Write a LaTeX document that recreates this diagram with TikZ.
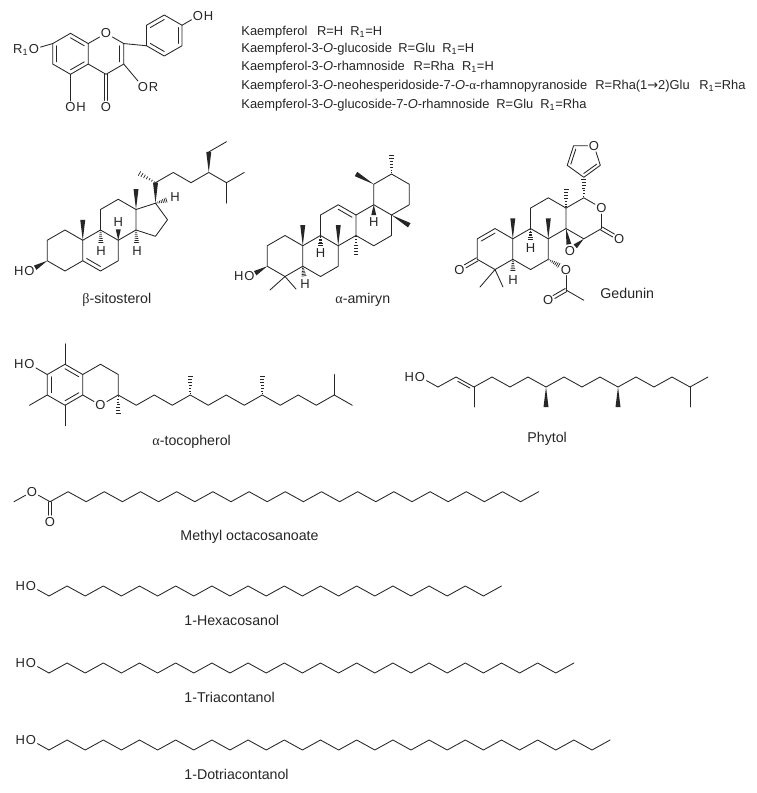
\documentclass[tikz,border=0pt]{standalone}
\usepackage{fontspec}
\setmainfont{Liberation Sans}
\newfontfamily\grk{Liberation Serif}
\newfontfamily\djv{DejaVu Sans}
\usetikzlibrary{calc}
\tikzset{
  atom/.style={inner sep=1pt,font=\fontsize{13}{14}\selectfont},
  atomx/.style={inner sep=0pt,font=\fontsize{13}{14}\selectfont},
  cname/.style={inner sep=0pt,anchor=base west,font=\fontsize{14.2}{16}\selectfont},
  ltext/.style={inner sep=0pt,anchor=base west,font=\fontsize{12.9}{14}\selectfont},
  hashl/.style={line width=0.7pt,line cap=butt},
}
\newcommand\wdg[2]{\fill (#1) -- ($(#2)!2.5pt!90:(#1)$) -- ($(#2)!2.5pt!-90:(#1)$) -- cycle;}
\newcommand\hsh[2]{\foreach \hq in {0.06,0.2,0.34,0.48,0.62,0.76,0.9}{\pgfmathsetmacro\hw{0.5+\hq*2.2}\draw[hashl] ($(#1)!\hq!(#2)!\hw pt!90:(#2)$) -- ($(#1)!\hq!(#2)!\hw pt!-90:(#2)$);}}
\newcommand\inl[3]{\draw ($(#3)!0.78!(#1)$) -- ($(#3)!0.78!(#2)$);}
\newcommand\dbo[2]{\draw[shorten >=6.5pt] ($(#1)!1.7pt!90:(#2)$) -- ($(#2)!1.7pt!-90:(#1)$);\draw[shorten >=6.5pt] ($(#1)!1.7pt!-90:(#2)$) -- ($(#2)!1.7pt!90:(#1)$);}
\newcommand\alc[3]{%
  \node[atom] (#1O) at (31,#2) {O};
  \node[atomx,anchor=base east,xshift=1pt] (#1H) at (#1O.base west) {H};
  \foreach \k in {1,...,#3}{\pgfmathsetmacro\xx{49+18.1*(\k-1)}\pgfmathsetmacro\yy{mod(\k,2)==1?#2+10:#2}\coordinate (#1\k) at (\xx,\yy);}
  \draw (#1O) -- (#11);
  \draw (#11) \foreach \k in {2,...,#3}{-- (#1\k)};}
\begin{document}
\begin{tikzpicture}[x=1pt,y=-1pt,line width=0.85pt,line cap=round,line join=round,black!85]
\path[fill=white,use as bounding box] (0,0) rectangle (757,793);

%% ---------------- Kaempferol ----------------
\coordinate (kA) at (70.5,53.8);
\coordinate (kC) at (106,53.8);
\coordinate (kC8) at (70.5,33.3);
\coordinate (kC8a) at (88.25,43.55);
\coordinate (kC4a) at (88.25,64.05);
\coordinate (kC5) at (70.5,74.3);
\coordinate (kC6) at (52.75,64.05);
\coordinate (kC7) at (52.75,43.55);
\node[atom] (kO1) at (106,33.3) {O};
\coordinate (kC2) at (123.75,43.55);
\coordinate (kC3) at (123.75,64.05);
\coordinate (kC4) at (106,74.3);
\draw (kC8) -- (kC8a) -- (kC4a) -- (kC5) -- (kC6) -- (kC7) -- cycle;
\draw (kC8a) -- (kO1) -- (kC2) -- (kC3) -- (kC4) -- (kC4a);
\inl{kC8}{kC8a}{kA}
\inl{kC4a}{kC5}{kA}
\inl{kC6}{kC7}{kA}
\inl{kC2}{kC3}{kC}
\node[atom] (kO4) at (106,107) {O};
\dbo{kC4}{kO4}
\node[atom] (kO5) at (70.5,107) {O};
\node[atomx,anchor=base west,xshift=-1pt] (kH5) at (kO5.base east) {H};
\draw (kC5) -- (kO5);
\node[atom] (kO3) at (143,87) {O};
\node[atomx,anchor=base west,xshift=-1pt] (kR) at (kO3.base east) {R};
\draw (kC3) -- (kO3);
\node[atom] (kO7) at (34,49) {O};
\node[atomx,anchor=base east,xshift=1pt] (kR1) at (kO7.base west) {R\textsubscript{1}};
\draw (kC7) -- (kO7);
\coordinate (kP) at (164.25,35.5);
\coordinate (kP1) at (146.5,45.75);
\coordinate (kP2) at (146.5,25.25);
\coordinate (kP3) at (164.25,15);
\coordinate (kP4) at (182,25.25);
\coordinate (kP5) at (182,45.75);
\coordinate (kP6) at (164.25,56);
\draw (kP1) -- (kP2) -- (kP3) -- (kP4) -- (kP5) -- (kP6) -- cycle;
\inl{kP2}{kP3}{kP}
\inl{kP4}{kP5}{kP}
\inl{kP6}{kP1}{kP}
\draw (kC2) -- (kP1);
\node[atom] (kO4p) at (198,16) {O};
\node[atomx,anchor=base west,xshift=-1pt] (kH4p) at (kO4p.base east) {H};
\draw (kP4) -- (kO4p);

%% list of kaempferol derivatives
\node[ltext] (kl1) at (241,35.3) {Kaempferol};
\node[ltext] (kl1r) at (316.7,35.3) {R=H};
\node[ltext] (kl1s) at (350,35.3) {R\textsubscript{1}=H};
\node[ltext] (kl2) at (241,52.4) {Kaempferol-3-\textit{O}-glucoside};
\node[ltext] (kl2r) at (398,52.4) {R=Glu};
\node[ltext] (kl2s) at (442,52.4) {R\textsubscript{1}=H};
\node[ltext] (kl3) at (241,70.8) {Kaempferol-3-\textit{O}-rhamnoside};
\node[ltext] (kl3r) at (413.3,70.8) {R=Rha};
\node[ltext] (kl3s) at (461.7,70.8) {R\textsubscript{1}=H};
\node[ltext] (kl4) at (241,89.8) {Kaempferol-3-\textit{O}-neohesperidoside-7-\textit{O}-{\grk α}-rhamnopyranoside};
\node[ltext] (kl4r) at (595,89.8) {R=Rha(1{\djv →}2)Glu};
\node[ltext] (kl4s) at (699,89.8) {R\textsubscript{1}=Rha};
\node[ltext] (kl5) at (241,108.9) {Kaempferol-3-\textit{O}-glucoside-7-\textit{O}-rhamnoside};
\node[ltext] (kl5r) at (496,108.9) {R=Glu};
\node[ltext] (kl5s) at (540,108.9) {R\textsubscript{1}=Rha};

%% ---------------- beta-sitosterol ----------------
\coordinate (sA) at (65,250.5);
\coordinate (sB) at (100.5,250.5);
\coordinate (sC1) at (65,230);
\coordinate (sC2) at (47.25,240.25);
\coordinate (sC3) at (47.25,260.75);
\coordinate (sC4) at (65,271);
\coordinate (sC5) at (82.75,260.75);
\coordinate (sC10) at (82.75,240.25);
\coordinate (sC6) at (100.5,271);
\coordinate (sC7) at (118.25,260.75);
\coordinate (sC8) at (118.25,240.25);
\coordinate (sC9) at (100.5,230);
\coordinate (sC11) at (100.5,209.5);
\coordinate (sC12) at (118.25,199.25);
\coordinate (sC13) at (136,209.5);
\coordinate (sC14) at (136,230);
\coordinate (sC15) at (155.5,236.3);
\coordinate (sC16) at (167.5,219.75);
\coordinate (sC17) at (155.5,203.2);
\coordinate (sC18) at (136,189);
\coordinate (sC19) at (82.75,219.75);
\coordinate (sC20) at (155.5,182.7);
\coordinate (sC21) at (137.75,172.45);
\coordinate (sC22) at (173.25,172.45);
\coordinate (sC23) at (191,182.7);
\coordinate (sC24) at (208.75,172.45);
\coordinate (sC25) at (226.5,182.7);
\coordinate (sC26) at (244.25,172.45);
\coordinate (sC27) at (226.5,203.2);
\coordinate (sC28) at (208.75,151.95);
\coordinate (sC29) at (226.5,141.7);
\draw (sC1) -- (sC2) -- (sC3) -- (sC4) -- (sC5) -- (sC10) -- cycle;
\draw (sC5) -- (sC6) -- (sC7) -- (sC8) -- (sC9) -- (sC10);
\draw (sC9) -- (sC11) -- (sC12) -- (sC13) -- (sC14) -- (sC8);
\draw (sC13) -- (sC17) -- (sC16) -- (sC15) -- (sC14);
\inl{sC5}{sC6}{sB}
\wdg{sC10}{sC19}
\wdg{sC13}{sC18}
\wdg{sC17}{sC20}
\draw (sC20) -- (sC22) -- (sC23) -- (sC24) -- (sC25) -- (sC26);
\draw (sC25) -- (sC27);
\hsh{sC20}{sC21}
\wdg{sC24}{sC28}
\draw (sC28) -- (sC29);
\node[atom] (sO3) at (29.5,271) {O};
\node[atomx,anchor=base east,xshift=1pt] (sH3) at (sO3.base west) {H};
\coordinate (sw3) at ($(sC3)!0.68!(sO3)$);
\wdg{sC3}{sw3}
\node[atom] (sH8) at (118.25,222) {H};
\coordinate (sw8) at ($(sC8)!0.6!(sH8)$);
\wdg{sC8}{sw8}
\node[atom] (sH9) at (101,251) {H};
\coordinate (sh9) at ($(sC9)!0.66!(sH9)$);
\hsh{sC9}{sh9}
\node[atom] (sH14) at (137,251) {H};
\coordinate (sh14) at ($(sC14)!0.66!(sH14)$);
\hsh{sC14}{sh14}
\node[atom] (sH17) at (175,197.5) {H};
\coordinate (sh17) at ($(sC17)!0.62!(sH17)$);
\hsh{sC17}{sh17}
\node[cname] (sName) at (82,303) {{\grk β}-sitosterol};

%% ---------------- alpha-amyrin ----------------
\coordinate (aA) at (285,256);
\coordinate (aCc) at (338.25,225.25);
\coordinate (aC1) at (285,235.5);
\coordinate (aC2) at (267.25,245.75);
\coordinate (aC3) at (267.25,266.25);
\coordinate (aC4) at (285,276.5);
\coordinate (aC5) at (302.75,266.25);
\coordinate (aC10) at (302.75,245.75);
\coordinate (aC6) at (320.5,276.5);
\coordinate (aC7) at (338.25,266.25);
\coordinate (aC8) at (338.25,245.75);
\coordinate (aC9) at (320.5,235.5);
\coordinate (aC11) at (320.5,215);
\coordinate (aC12) at (338.25,204.75);
\coordinate (aC13) at (356,215);
\coordinate (aC14) at (356,235.5);
\coordinate (aC18) at (373.75,204.75);
\coordinate (aC17) at (391.5,215);
\coordinate (aC16) at (391.5,235.5);
\coordinate (aC15) at (373.75,245.75);
\coordinate (aC19) at (373.75,184.25);
\coordinate (aC20) at (391.5,174);
\coordinate (aC21) at (409.25,184.25);
\coordinate (aC22) at (409.25,204.75);
\coordinate (aM4a) at (270,290);
\coordinate (aM4b) at (296,289);
\coordinate (aM10) at (302.75,225);
\coordinate (aM8) at (338.25,225);
\coordinate (aM14) at (356,256);
\coordinate (aM17) at (409.25,225.25);
\coordinate (aM19) at (356,174);
\coordinate (aM20) at (391.5,153.5);
\draw (aC1) -- (aC2) -- (aC3) -- (aC4) -- (aC5) -- (aC10) -- cycle;
\draw (aC5) -- (aC6) -- (aC7) -- (aC8) -- (aC9) -- (aC10);
\draw (aC9) -- (aC11) -- (aC12) -- (aC13) -- (aC14) -- (aC8);
\draw (aC13) -- (aC18) -- (aC17) -- (aC16) -- (aC15) -- (aC14);
\draw (aC18) -- (aC19) -- (aC20) -- (aC21) -- (aC22) -- (aC17);
\inl{aC12}{aC13}{aCc}
\draw (aC4) -- (aM4a);
\draw (aC4) -- (aM4b);
\wdg{aC10}{aM10}
\wdg{aC8}{aM8}
\hsh{aC14}{aM14}
\wdg{aC17}{aM17}
\wdg{aC19}{aM19}
\hsh{aC20}{aM20}
\node[atom] (aO3) at (249.5,276.5) {O};
\node[atomx,anchor=base east,xshift=1pt] (aH3) at (aO3.base west) {H};
\coordinate (aw3) at ($(aC3)!0.68!(aO3)$);
\wdg{aC3}{aw3}
\node[atom] (aH5) at (305,284) {H};
\coordinate (ah5) at ($(aC5)!0.6!(aH5)$);
\hsh{aC5}{ah5}
\node[atom] (aH9) at (320.5,253) {H};
\coordinate (ah9) at ($(aC9)!0.6!(aH9)$);
\hsh{aC9}{ah9}
\node[atom] (aH18) at (373.75,222) {H};
\coordinate (aw18) at ($(aC18)!0.6!(aH18)$);
\wdg{aC18}{aw18}
\node[cname] (aName) at (335,303) {{\grk α}-amiryn};

%% ---------------- Gedunin ----------------
\coordinate (gA) at (495.05,249.05);
\coordinate (gC1) at (495.05,228.55);
\coordinate (gC2) at (477.3,238.8);
\coordinate (gC3) at (477.3,259.3);
\coordinate (gC4) at (495.05,269.55);
\coordinate (gC5) at (512.8,259.3);
\coordinate (gC10) at (512.8,238.8);
\coordinate (gC6) at (530.55,269.55);
\coordinate (gC7) at (548.3,259.3);
\coordinate (gC8) at (548.3,238.8);
\coordinate (gC9) at (530.55,228.55);
\coordinate (gC11) at (530.55,208.05);
\coordinate (gC12) at (548.3,197.8);
\coordinate (gC13) at (566.05,208.05);
\coordinate (gC14) at (566.05,228.55);
\coordinate (gC17) at (583.8,197.8);
\node[atom] (gOL) at (601.55,208.05) {O};
\coordinate (gC16) at (601.55,228.55);
\coordinate (gC15) at (583.8,238.8);
\coordinate (gM4a) at (480,287);
\coordinate (gM4b) at (503,287);
\coordinate (gM10) at (512.8,218.3);
\coordinate (gM8) at (548.3,218.3);
\coordinate (gM13) at (566.05,187.5);
\draw (gC1) -- (gC2) -- (gC3) -- (gC4) -- (gC5) -- (gC10) -- cycle;
\draw (gC5) -- (gC6) -- (gC7) -- (gC8) -- (gC9) -- (gC10);
\draw (gC9) -- (gC11) -- (gC12) -- (gC13) -- (gC14) -- (gC8);
\draw (gC13) -- (gC17) -- (gOL) -- (gC16) -- (gC15) -- (gC14);
\inl{gC1}{gC2}{gA}
\node[atom] (gO3) at (459.55,269.55) {O};
\dbo{gC3}{gO3}
\draw (gC4) -- (gM4a);
\draw (gC4) -- (gM4b);
\node[atom] (gH5) at (513,280) {H};
\coordinate (gh5) at ($(gC5)!0.6!(gH5)$);
\hsh{gC5}{gh5}
\node[atom] (gH9) at (530.55,248) {H};
\coordinate (gh9) at ($(gC9)!0.6!(gH9)$);
\hsh{gC9}{gh9}
\wdg{gC10}{gM10}
\wdg{gC8}{gM8}
\hsh{gC13}{gM13}
\node[atom] (gO7) at (566.05,269.55) {O};
\coordinate (gh7) at ($(gC7)!0.66!(gO7)$);
\hsh{gC7}{gh7}
\coordinate (gCac) at (566.05,290);
\coordinate (gMac) at (583.8,300.25);
\draw (gO7) -- (gCac);
\draw (gCac) -- (gMac);
\node[atom] (gOac) at (548.3,300.25) {O};
\dbo{gCac}{gOac}
\node[atom] (gOe) at (570,251) {O};
\coordinate (gwe1) at ($(gC14)!0.7!(gOe)$);
\wdg{gC14}{gwe1}
\coordinate (gwe2) at ($(gC15)!0.62!(gOe)$);
\wdg{gC15}{gwe2}
\node[atom] (gO16) at (619.3,238.8) {O};
\dbo{gC16}{gO16}
\coordinate (gFc) at (583.8,159.9);
\coordinate (gF3) at (583.8,177.3);
\coordinate (gF4) at (567.25,165.3);
\coordinate (gF5) at (573.57,145.8);
\node[atom] (gOf) at (594.03,145.8) {O};
\coordinate (gF2) at (600.35,165.3);
\draw (gF4) -- (gF3) -- (gF2) -- (gOf);
\draw (gOf) -- (gF5) -- (gF4);
\inl{gF2}{gF3}{gFc}
\inl{gF4}{gF5}{gFc}
\hsh{gC17}{gF3}
\node[cname] (gName) at (600,298) {Gedunin};

%% ---------------- alpha-tocopherol ----------------
\coordinate (tAr) at (65,384.75);
\coordinate (tC5) at (65,364.25);
\coordinate (tC4a) at (82.75,374.5);
\coordinate (tC8a) at (82.75,395);
\coordinate (tC8) at (65,405.25);
\coordinate (tC7) at (47.25,395);
\coordinate (tC6) at (47.25,374.5);
\coordinate (tC4) at (100.5,364.25);
\coordinate (tC3) at (118.25,374.5);
\coordinate (tC2) at (118.25,395);
\node[atom] (tO1) at (100.5,405.25) {O};
\coordinate (tM5) at (65,343.75);
\coordinate (tM8) at (65,425.75);
\coordinate (tM7) at (29.5,405.25);
\coordinate (tM2) at (118.25,415.5);
\draw (tC5) -- (tC4a) -- (tC8a) -- (tC8) -- (tC7) -- (tC6) -- cycle;
\draw (tC4a) -- (tC4) -- (tC3) -- (tC2) -- (tO1) -- (tC8a);
\inl{tC5}{tC4a}{tAr}
\inl{tC6}{tC7}{tAr}
\inl{tC8}{tC8a}{tAr}
\draw (tC5) -- (tM5);
\draw (tC8) -- (tM8);
\draw (tC7) -- (tM7);
\node[atom] (tO6) at (29.5,364.25) {O};
\node[atomx,anchor=base east,xshift=1pt] (tH6) at (tO6.base west) {H};
\draw (tC6) -- (tO6);
\hsh{tC2}{tM2}
\foreach \k in {1,...,13}{\pgfmathsetmacro\xx{118.25+18*\k}\pgfmathsetmacro\yy{mod(\k,2)==1?405.25:395}\coordinate (t\k) at (\xx,\yy);}
\draw (tC2) \foreach \k in {1,...,13}{-- (t\k)};
\coordinate (tB4) at (190.25,374.5);
\coordinate (tB8) at (262.25,374.5);
\coordinate (tB12) at (334.25,374.5);
\hsh{t4}{tB4}
\hsh{t8}{tB8}
\draw (t12) -- (tB12);
\node[cname] (tName) at (152,445) {{\grk α}-tocopherol};

%% ---------------- Phytol ----------------
\node[atom] (pO) at (420,377) {O};
\node[atomx,anchor=base east,xshift=1pt] (pH) at (pO.base west) {H};
\foreach \k in {1,...,16}{\pgfmathsetmacro\xx{420+18*\k}\pgfmathsetmacro\yy{mod(\k,2)==1?387:377}\coordinate (p\k) at (\xx,\yy);}
\draw (pO) -- (p1);
\draw (p1) \foreach \k in {2,...,16}{-- (p\k)};
\draw ($(p2)!0.18!(p3)!2.9pt!-90:(p3)$) -- ($(p2)!0.85!(p3)!2.9pt!-90:(p3)$);
\coordinate (pM3) at (474,407);
\coordinate (pM7) at (546,407);
\coordinate (pM11) at (618,407);
\coordinate (pM15) at (690,407);
\draw (p3) -- (pM3);
\wdg{p7}{pM7}
\wdg{p11}{pM11}
\draw (p15) -- (pM15);
\node[cname] (pName) at (527,442) {Phytol};

%% ---------------- Methyl octacosanoate ----------------
\coordinate (mMe) at (14,501.7);
\node[atom] (mO) at (32,491.7) {O};
\foreach \k in {1,...,28}{\pgfmathsetmacro\xx{50+18.1*(\k-1)}\pgfmathsetmacro\yy{mod(\k,2)==1?501.7:491.7}\coordinate (m\k) at (\xx,\yy);}
\draw (mMe) -- (mO);
\draw (mO) -- (m1);
\draw (m1) \foreach \k in {2,...,28}{-- (m\k)};
\node[atom] (mO2) at (50,521.7) {O};
\dbo{m1}{mO2}
\node[cname] (mName) at (180,540) {Methyl octacosanoate};

%% ---------------- fatty alcohols ----------------
\alc{hx}{586}{26}
\node[cname] (hxName) at (184,625) {1-Hexacosanol};
\alc{tr}{663}{30}
\node[cname] (trName) at (184,702) {1-Triacontanol};
\alc{dt}{740}{32}
\node[cname] (dtName) at (184,779) {1-Dotriacontanol};
\end{tikzpicture}
\end{document}
